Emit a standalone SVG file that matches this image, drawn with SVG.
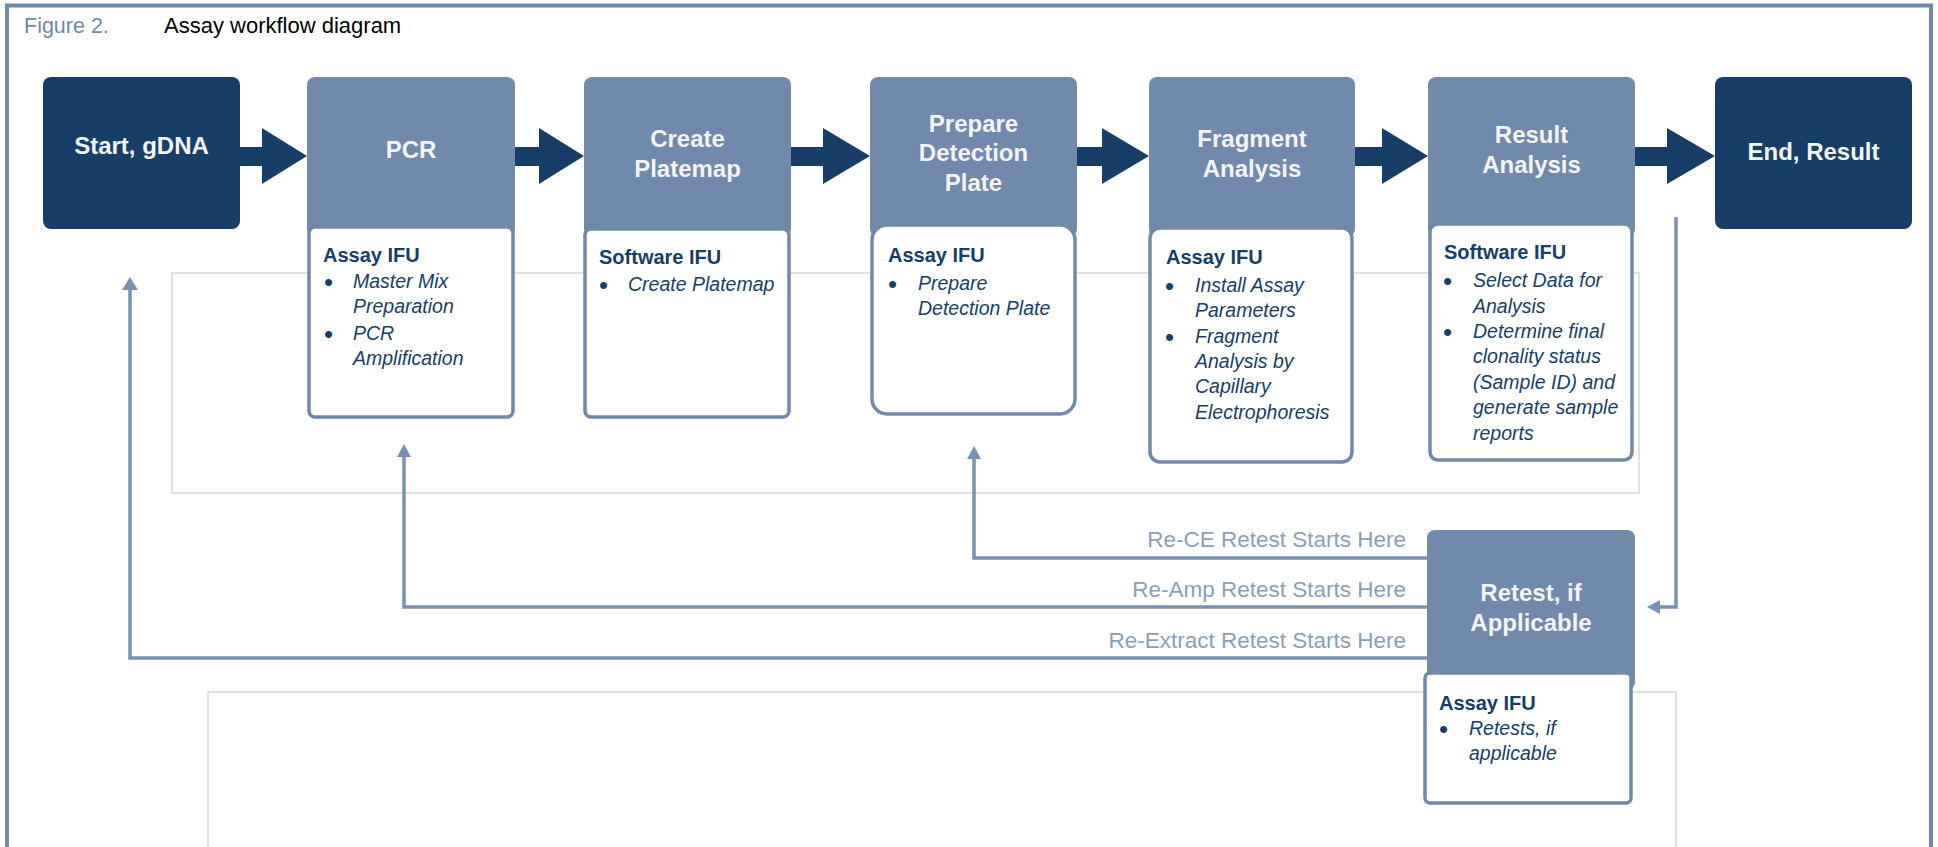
<svg xmlns="http://www.w3.org/2000/svg" width="1938" height="847" viewBox="0 0 1938 847">
<defs>
<style>
.frame{fill:none;stroke:#7189a9;stroke-width:4}
.ghost{fill:none;stroke:#d6d6d6;stroke-width:1.5}
.navy{fill:#163e67}
.hdr{fill:#7189aa}
.sub{fill:#fff;stroke:#7189a9;stroke-width:3.5}
.big{font-family:"Liberation Sans",Arial,sans-serif;font-weight:bold;font-size:24px;fill:#f2f4f7;text-anchor:middle}
.ttl{font-family:"Liberation Sans",Arial,sans-serif;font-weight:bold;font-size:20px;fill:#163e67}
.itm{font-family:"Liberation Sans",Arial,sans-serif;font-style:italic;font-size:19.5px;fill:#163e67}
.bul{font-family:"Liberation Sans",Arial,sans-serif;font-size:26px;fill:#163e67}
.lbl{font-family:"Liberation Sans",Arial,sans-serif;font-size:22.5px;fill:#8b9eb9;text-anchor:end}
.flow{fill:#163e67}
.ret{fill:none;stroke:#7891b0;stroke-width:3.5}
.head{fill:#7891b0}
</style>
</defs>
<rect x="0" y="0" width="1938" height="847" fill="#ffffff"/>
<rect class="frame" x="7" y="5.5" width="1924" height="900"/>
<text x="24" y="33" font-family="Liberation Sans,Arial,sans-serif" font-size="21.5" fill="#7189a9">Figure 2.</text>
<text x="164" y="33" font-family="Liberation Sans,Arial,sans-serif" font-size="22" fill="#000">Assay workflow diagram</text>

<rect class="ghost" x="172" y="273" width="1467" height="220"/>
<rect class="ghost" x="208" y="692" width="1468" height="200"/>

<g id="connectors">
<path class="flow" d="M240,147 H262 V128 L307,156 L262,184 V166 H240 Z"/>
<path class="flow" d="M515,147 H539 V128 L584,156 L539,184 V166 H515 Z"/>
<path class="flow" d="M791,147 H823 V128 L870,156 L823,184 V166 H791 Z"/>
<path class="flow" d="M1077,147 H1102 V128 L1149,156 L1102,184 V166 H1077 Z"/>
<path class="flow" d="M1355,147 H1382 V128 L1428,156 L1382,184 V166 H1355 Z"/>
<path class="flow" d="M1635,147 H1667 V128 L1715,156 L1667,184 V166 H1635 Z"/>
<path class="ret" d="M1676,217 V607 H1658"/>
<path class="head" d="M1647,607 L1660,600 L1660,614 Z"/>
<path class="ret" d="M1427,558 H974 V458"/>
<path class="head" d="M974,446 L981,459 L967,459 Z"/>
<path class="ret" d="M1427,607 H404 V456"/>
<path class="head" d="M404,444 L411,457 L397,457 Z"/>
<path class="ret" d="M1427,658 H130 V289"/>
<path class="head" d="M130,277 L138,290 L122,290 Z"/>
<text class="lbl" x="1406" y="547">Re-CE Retest Starts Here</text>
<text class="lbl" x="1406" y="597">Re-Amp Retest Starts Here</text>
<text class="lbl" x="1406" y="648">Re-Extract Retest Starts Here</text>
</g>

<g id="start">
<rect class="navy" x="43" y="77" width="197" height="152" rx="8"/>
<text class="big" x="141.5" y="154">Start, gDNA</text>
</g>

<g id="pcr">
<rect class="hdr" x="307" y="77" width="208" height="160" rx="8"/>
<text class="big" x="411" y="158">PCR</text>
<rect class="sub" x="309" y="227" width="204" height="190" rx="6"/>
<text class="ttl" x="323" y="262">Assay IFU</text>
<text class="bul" x="324" y="291">•</text>
<text class="bul" x="324" y="343">•</text>
<text class="itm" x="353" y="288">Master Mix</text>
<text class="itm" x="353" y="313">Preparation</text>
<text class="itm" x="353" y="340">PCR</text>
<text class="itm" x="353" y="365">Amplification</text>
</g>

<g id="platemap">
<rect class="hdr" x="584" y="77" width="207" height="160" rx="8"/>
<text class="big" x="687.5" y="147">Create</text>
<text class="big" x="687.5" y="177">Platemap</text>
<rect class="sub" x="585" y="229" width="204" height="188" rx="6"/>
<text class="ttl" x="599" y="264">Software IFU</text>
<text class="bul" x="599" y="294">•</text>
<text class="itm" x="628" y="291">Create Platemap</text>
</g>

<g id="prepare">
<rect class="hdr" x="870" y="77" width="207" height="160" rx="8"/>
<text class="big" x="973.5" y="132">Prepare</text>
<text class="big" x="973.5" y="161">Detection</text>
<text class="big" x="973.5" y="191">Plate</text>
<rect class="sub" x="872" y="225" width="203" height="189" rx="15"/>
<text class="ttl" x="888" y="262">Assay IFU</text>
<text class="bul" x="888" y="293">•</text>
<text class="itm" x="918" y="290">Prepare</text>
<text class="itm" x="918" y="315">Detection Plate</text>
</g>

<g id="fragment">
<rect class="hdr" x="1149" y="77" width="206" height="160" rx="8"/>
<text class="big" x="1252" y="147">Fragment</text>
<text class="big" x="1252" y="177">Analysis</text>
<rect class="sub" x="1150" y="228" width="202" height="234" rx="10"/>
<text class="ttl" x="1166" y="264">Assay IFU</text>
<text class="bul" x="1165" y="295">•</text>
<text class="bul" x="1165" y="346">•</text>
<text class="itm" x="1195" y="292">Install Assay</text>
<text class="itm" x="1195" y="317">Parameters</text>
<text class="itm" x="1195" y="343">Fragment</text>
<text class="itm" x="1195" y="368">Analysis by</text>
<text class="itm" x="1195" y="393">Capillary</text>
<text class="itm" x="1195" y="419">Electrophoresis</text>
</g>

<g id="result">
<rect class="hdr" x="1428" y="77" width="207" height="160" rx="8"/>
<text class="big" x="1531.5" y="143">Result</text>
<text class="big" x="1531.5" y="173">Analysis</text>
<rect class="sub" x="1430" y="224" width="202" height="236" rx="8"/>
<text class="ttl" x="1444" y="259">Software IFU</text>
<text class="bul" x="1443" y="290">•</text>
<text class="bul" x="1443" y="341">•</text>
<text class="itm" x="1473" y="287">Select Data for</text>
<text class="itm" x="1473" y="313">Analysis</text>
<text class="itm" x="1473" y="338">Determine final</text>
<text class="itm" x="1473" y="363">clonality status</text>
<text class="itm" x="1473" y="389">(Sample ID) and</text>
<text class="itm" x="1473" y="414">generate sample</text>
<text class="itm" x="1473" y="440">reports</text>
</g>

<g id="end">
<rect class="navy" x="1715" y="77" width="197" height="152" rx="8"/>
<text class="big" x="1813.5" y="160">End, Result</text>
</g>

<g id="retest">
<rect class="hdr" x="1427" y="530" width="208" height="160" rx="8"/>
<text class="big" x="1531" y="601">Retest, if</text>
<text class="big" x="1531" y="631">Applicable</text>
<rect class="sub" x="1425" y="673" width="206" height="130" rx="5"/>
<text class="ttl" x="1439" y="710">Assay IFU</text>
<text class="bul" x="1439" y="738">•</text>
<text class="itm" x="1469" y="735">Retests, if</text>
<text class="itm" x="1469" y="760">applicable</text>
</g>
</svg>
